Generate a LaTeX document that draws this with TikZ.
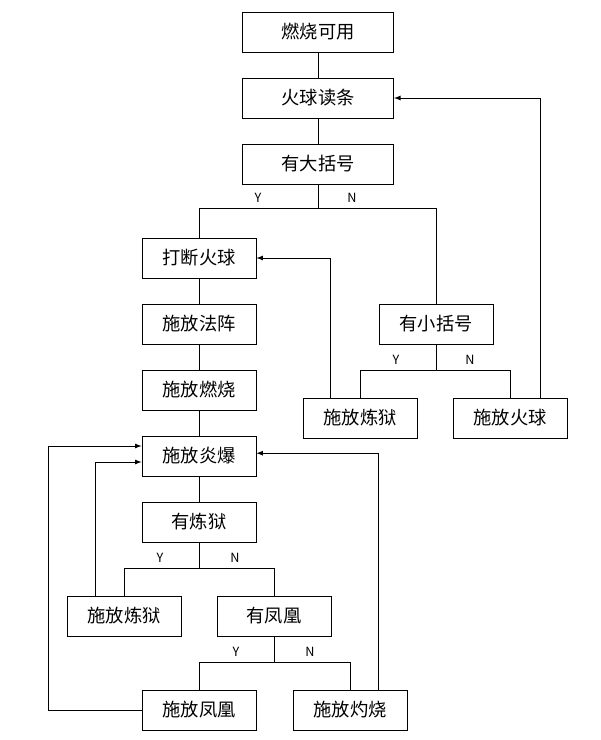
\documentclass[tikz,border=0pt]{standalone}
\usepackage{fontspec}
\setmainfont{Noto Sans CJK SC}
\usetikzlibrary{arrows}
\tikzset{
	box/.style={
		draw,
		minimum width=2.85cm,
		minimum height=1cm,
		font=\fontsize{13}{15}\selectfont
	},
	yn/.style={
		font=\fontsize{9}{10}\selectfont,
		above
	}
}

\begin{document}
\begin{tikzpicture}[x=0.025cm, y=-0.025cm, semithick, >=latex]
\useasboundingbox (0,0) rectangle (600,740);
\node[box, minimum width=3.78cm] (rs) at (318, 32) {燃烧可用};
\node[box, minimum width=3.78cm] (hq) at (318, 98) {火球读条};
\node[box, minimum width=3.78cm] (dk) at (318, 164) {有大括号};
\node[box] (dd) at (199, 258) {打断火球};
\node[box] (fz) at (199, 324) {施放法阵};
\node[box] (rsh) at (199, 390) {施放燃烧};
\node[box] (yb) at (199, 456) {施放炎爆};
\node[box] (xk) at (436, 324) {有小括号};
\node[box] (ly1) at (360, 418) {施放炼狱};
\node[box] (hq2) at (510, 418) {施放火球};
\node[box] (yly) at (199, 522) {有炼狱};
\node[box] (ly2) at (124, 616) {施放炼狱};
\node[box] (yfh) at (274, 616) {有凤凰};
\node[box] (fh) at (199, 710) {施放凤凰};
\node[box] (zs) at (350, 710) {施放灼烧};

% main chain
\draw (rs) -- (hq);
\draw (hq) -- (dk);
\draw (dd) -- (fz);
\draw (fz) -- (rsh);
\draw (rsh) -- (yb);
\draw (yb) -- (yly);

% branches
\draw (dk.south) -- (dk.south |- 0,208) -| (dd.north);
\draw (dk.south |- 0,208) -| (xk.north);
\node[yn] at (258, 208) {Y};
\node[yn] at (352, 208) {N};
\draw (xk.south) -- (xk.south |- 0,370) -| (ly1.north);
\draw (xk.south |- 0,370) -| (hq2.north);
\node[yn] at (396, 370) {Y};
\node[yn] at (470, 370) {N};
\draw (yly.south) -- (yly.south |- 0,568) -| (ly2.north);
\draw (yly.south |- 0,568) -| (yfh.north);
\node[yn] at (160, 568) {Y};
\node[yn] at (235, 568) {N};
\draw (yfh.south) -- (yfh.south |- 0,662) -| (fh.north);
\draw (yfh.south |- 0,662) -| (zs.north);
\node[yn] at (236, 662) {Y};
\node[yn] at (310, 662) {N};

% loops back
\draw[->] ([xshift=-0.75cm]ly1.north) |- (dd.east);
\draw[->] ([xshift=0.75cm]hq2.north) |- (hq.east);
\draw[->] ([xshift=-0.72cm]ly2.north) |- ([yshift=-0.15cm]yb.west);
\draw[->] (fh.west) -- (48,710) |- ([yshift=0.25cm]yb.west);
\draw[->] ([xshift=0.7cm]zs.north) |- ([yshift=0.07cm]yb.east);
\end{tikzpicture}
\end{document}
